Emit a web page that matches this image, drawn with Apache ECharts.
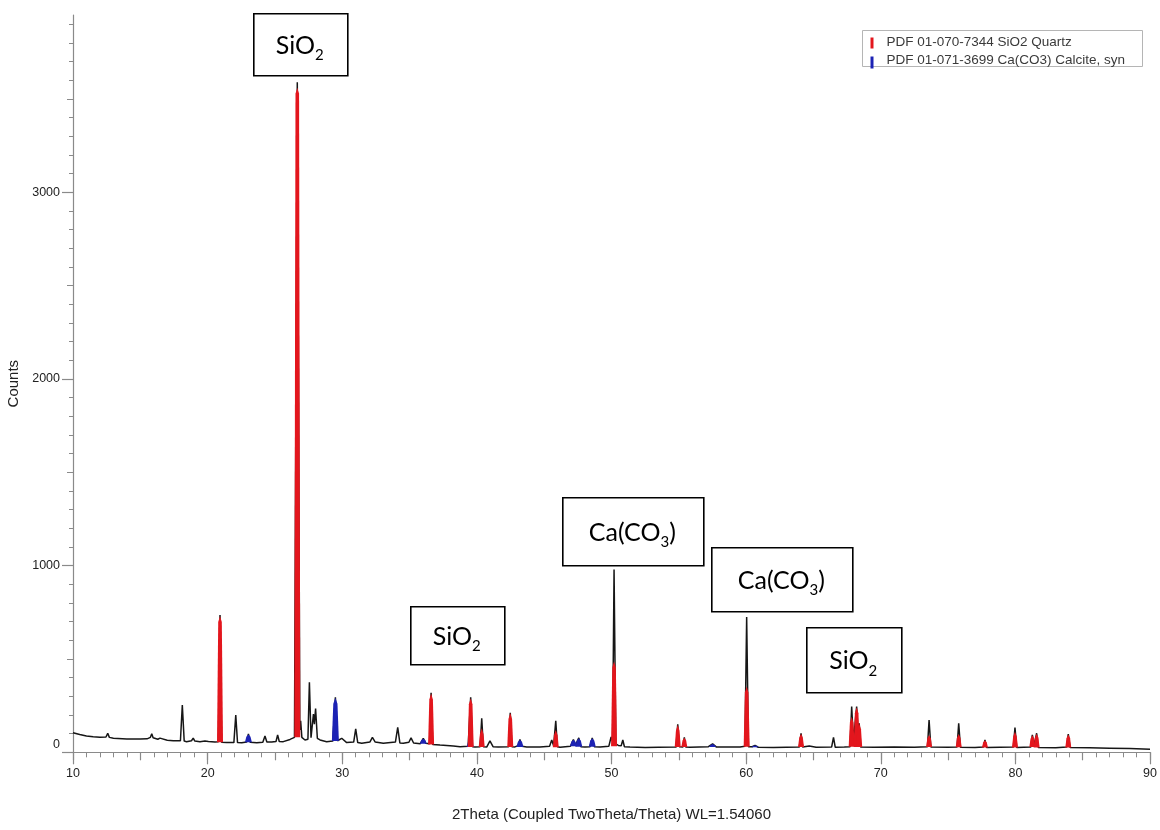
<!DOCTYPE html>
<html>
<head>
<meta charset="utf-8">
<script src="https://cdn.jsdelivr.net/npm/echarts@6/dist/echarts.min.js"></script>
<style>
html,body{margin:0;padding:0;background:#fff;}
#chart{width:1160px;height:830px;}
</style>
</head>
<body>
<div id="chart"></div>
<script>
// ---- Data ----
const traceX = [10.0,10.5,11.0,11.5,12.0,12.45,12.58,12.7,13.0,14.0,15.0,15.5,15.75,15.85,15.95,16.3,16.46,16.6,17.0,17.45,17.98,18.12,18.26,18.44,18.8,18.93,19.05,19.43,19.8,19.93,20.06,20.55,20.8,20.92,21.04,21.42,21.95,22.09,22.22,22.53,22.9,23.03,23.16,23.65,24.1,24.26,24.4,24.76,25.08,25.2,25.32,25.62,26.12,26.45,26.66,26.85,26.91,27.0,27.23,27.45,27.56,27.68,27.78,27.86,27.93,28.02,28.15,28.35,28.84,29.3,29.49,29.65,29.96,30.33,30.85,31.0,31.15,31.45,32.05,32.24,32.45,33.05,33.95,34.12,34.28,34.54,34.95,35.11,35.3,35.8,36.02,36.2,36.48,36.6,36.72,37.26,38.25,38.75,39.35,39.54,39.68,39.86,40.24,40.36,40.48,40.73,40.97,41.2,41.59,42.36,42.48,42.6,42.83,43.05,43.2,43.35,43.7,44.69,45.4,45.56,45.7,45.86,45.98,46.18,46.95,47.17,47.32,47.57,47.72,48.03,48.4,48.57,48.72,49.15,49.8,49.97,50.08,50.19,50.32,50.51,50.72,50.84,50.96,51.37,52.5,53.5,54.8,54.92,55.04,55.3,55.41,55.52,55.83,57.2,57.51,57.8,59.55,59.91,60.04,60.17,60.45,60.66,60.9,62.02,63.0,63.95,64.08,64.2,64.69,65.2,66.35,66.49,66.62,67.3,67.72,67.84,67.97,68.1,68.21,68.31,68.4,68.5,69.5,71.0,72.5,73.47,73.59,73.72,75.0,75.67,75.79,75.92,77.0,77.62,77.74,77.86,79.85,79.97,80.1,81.14,81.26,81.4,81.58,81.7,83.0,83.81,83.93,84.06,85.5,87.0,88.5,90.0];
const traceCounts = [105,95,87,83,80,82,102,80,75,71,71,72,80,100,78,70,76,68,65,62,62,253,60,57,62,76,60,57,60,68,58,55,56,735,54,52,52,200,52,51,55,98,54,51,54,87,55,55,58,93,58,57,69,80,3590,120,169,80,66,70,375,78,80,205,150,235,75,66,57,60,295,62,75,52,55,125,52,48,55,80,55,48,55,134,50,48,54,77,50,46,75,48,46,319,42,39,34,30,32,295,30,28,30,182,30,28,61,30,28,30,212,30,29,35,69,32,29,28,32,66,35,169,30,27,32,69,38,77,30,28,30,77,30,28,32,82,60,979,45,37,35,66,30,28,26,27,28,150,30,28,80,28,27,30,45,28,28,32,725,30,30,37,27,26,27,28,102,28,34,27,28,80,27,28,30,245,60,70,245,120,155,28,27,28,27,30,173,28,27,29,155,27,26,28,66,26,28,132,26,28,93,40,102,26,25,28,98,26,24,22,20,17];

// PDF 01-070-7344 SiO2 Quartz – matched peaks (2θ, fill top in counts)
const quartzPos = [20.92,26.66,36.6,39.54,40.36,42.48,45.86,50.19,54.92,55.41,60.04,64.08,67.84,68.21,68.4,73.59,75.79,77.74,79.97,81.26,81.58,83.93];
const quartzTop = [730,3560,315,290,129,210,119,487,148,78,353,100,191,242,155,93,98,64,110,91,100,96];

// PDF 01-071-3699 Ca(CO3) Calcite – matched peaks
const calcitePos = [23.03,29.49,36.02,39.5,43.2,47.17,47.57,48.57,57.51,60.66,64.69];
const calciteTop = [96,292,73,66,67,67,75,75,44,36,33];

const yLabelValues = [0,1000,2000,3000];
const yMidTicks = [500,1500,2500,3500];
const legendNames = ['PDF 01-070-7344 SiO2 Quartz','PDF 01-071-3699 Ca(CO3) Calcite, syn'];
const annotations = [
  {main:'SiO', sub:'2', tail:''},
  {main:'SiO', sub:'2', tail:''},
  {main:'Ca(CO', sub:'3', tail:')'},
  {main:'Ca(CO', sub:'3', tail:')'},
  {main:'SiO', sub:'2', tail:''}
];

// ---- helpers ----
function localBase(x){
  let m = Infinity;
  for (let i=0;i<traceX.length;i++){
    if (traceX[i] >= x-0.4 && traceX[i] <= x+0.4 && traceCounts[i] < m) m = traceCounts[i];
  }
  return m === Infinity ? 30 : m;
}
function fillRenderer(color, halfW){
  return function(params, api){
    const x = api.value(0), top = api.value(1);
    const pt = api.coord([x, top]);
    const pb = api.coord([x, localBase(x)]);
    const shoulder = pt[1] + Math.min(6, (pb[1]-pt[1])*0.3);
    return {
      type:'polygon',
      shape:{points:[[pt[0]-halfW,pb[1]],[pt[0]-halfW*0.6,shoulder],[pt[0],pt[1]],[pt[0]+halfW*0.6,shoulder],[pt[0]+halfW,pb[1]]]},
      style:{fill:color}
    };
  };
}
const minorY = [];
for (let v=100; v<=3900; v+=100) if (v%500!==0) minorY.push(v);

const RED = '#e3161d', BLUE = '#1c22b4';
const axisGray = '#8a8a8a';
const labelFont = 'Liberation Sans';

const traceData = traceX.map((x,i)=>[x, traceCounts[i]]);
const quartzData = quartzPos.map((x,i)=>[x, quartzTop[i]]);
const calciteData = calcitePos.map((x,i)=>[x, calciteTop[i]]);

const baseX = {type:'value', min:10, max:90, position:'bottom', splitLine:{show:false}};
const baseY = {type:'value', min:0, max:3950, position:'left', splitLine:{show:false}};

// annotation boxes (layout)
const boxLayout = [
  {x:253, y:13, w:94, h:62},
  {x:410, y:606, w:94, h:58},
  {x:562, y:497, w:141, h:68},
  {x:711, y:547, w:141, h:64},
  {x:806, y:627, w:95, h:65}
];
const graphics = [];
boxLayout.forEach((b, i)=>{
  const a = annotations[i];
  graphics.push({
    type:'group', left:b.x, top:b.y, z:100,
    children:[
      {type:'rect', shape:{x:0,y:0,width:b.w,height:b.h}, style:{fill:'#fff', stroke:'#000', lineWidth:1.6}},
      {type:'text', x:b.w/2 - 1, y:b.h/2 + 1, style:{
        text:'{m|'+a.main+'}{s|'+a.sub+'}' + (a.tail ? '{m|'+a.tail+'}' : ''),
        align:'center', verticalAlign:'middle',
        rich:{
          m:{fontSize:25, fontFamily:'Lato', fill:'#000', lineHeight:34, verticalAlign:'middle'},
          s:{fontSize:15, fontFamily:'Lato', fill:'#000', lineHeight:15, verticalAlign:'bottom'}
        }
      }}
    ]
  });
});
// legend box
graphics.push({
  type:'group', left:862, top:30, z:100,
  children:[
    {type:'rect', shape:{x:0,y:0,width:280,height:36}, style:{fill:'#fff', stroke:'#b5b5b5', lineWidth:1}},
    {type:'rect', shape:{x:8,y:7,width:3,height:11}, style:{fill:RED}},
    {type:'text', x:24, y:12, style:{text:legendNames[0], fontSize:13.5, fontFamily:labelFont, fill:'#3a3a3a', verticalAlign:'middle'}},
    {type:'rect', shape:{x:8,y:26,width:3,height:12}, style:{fill:BLUE}},
    {type:'text', x:24, y:30, style:{text:legendNames[1], fontSize:13.5, fontFamily:labelFont, fill:'#3a3a3a', verticalAlign:'middle'}}
  ]
});

const chart = echarts.init(document.getElementById('chart'), null, {renderer:'canvas'});
chart.setOption({
  animation:false,
  backgroundColor:'#fff',
  grid:{left:73, right:10, top:15, bottom:77.7, containLabel:false, outerBoundsMode:'none'},
  xAxis:[
    Object.assign({}, baseX, {
      interval:10,
      axisLine:{show:true, lineStyle:{color:axisGray, width:1.2}},
      axisTick:{show:true, length:12, lineStyle:{color:axisGray, width:1.2}},
      axisLabel:{show:true, margin:15, fontSize:12.5, color:'#222', fontFamily:labelFont},
      name:'2Theta (Coupled TwoTheta/Theta) WL=1.54060',
      nameLocation:'middle', nameGap:55,
      nameTextStyle:{fontSize:15, color:'#222', fontFamily:labelFont}
    }),
    Object.assign({}, baseX, {
      interval:5,
      axisLine:{show:false}, axisLabel:{show:false},
      axisTick:{show:true, length:8, lineStyle:{color:axisGray, width:1.2}}
    }),
    Object.assign({}, baseX, {
      interval:1,
      axisLine:{show:false}, axisLabel:{show:false},
      axisTick:{show:true, length:5, lineStyle:{color:axisGray, width:1}}
    })
  ],
  yAxis:[
    Object.assign({}, baseY, {
      axisLine:{show:true, lineStyle:{color:axisGray, width:1.2}},
      axisTick:{show:true, length:11, customValues:yLabelValues, lineStyle:{color:axisGray, width:1.2}},
      axisLabel:{show:true, margin:13, fontSize:12.5, color:'#222', fontFamily:labelFont, customValues:yLabelValues,
        formatter:function(v){ return v === 0 ? '{z|0}' : String(v); },
        rich:{z:{fontSize:12.5, fontFamily:labelFont, color:'#222', padding:[0,0,16,0]}}},
      name:'Counts', nameLocation:'middle', nameGap:43, nameRotate:90,
      nameTextStyle:{fontSize:15, color:'#222', fontFamily:labelFont}
    }),
    Object.assign({}, baseY, {
      axisLine:{show:false}, axisLabel:{show:false},
      axisTick:{show:true, length:6, customValues:yMidTicks, lineStyle:{color:axisGray, width:1}}
    }),
    Object.assign({}, baseY, {
      axisLine:{show:false}, axisLabel:{show:false},
      axisTick:{show:true, length:4, customValues:minorY, lineStyle:{color:axisGray, width:1}}
    })
  ],
  series:[
    {
      name:'Pattern', type:'line', data:traceData, xAxisIndex:0, yAxisIndex:0,
      showSymbol:false, symbol:'none', smooth:false, z:2,
      lineStyle:{color:'#161616', width:1.5}
    },
    {
      name:legendNames[1], type:'custom', data:calciteData, xAxisIndex:0, yAxisIndex:0,
      encode:{x:0, y:1}, z:3, renderItem:fillRenderer(BLUE, 3.5)
    },
    {
      name:legendNames[0], type:'custom', data:quartzData, xAxisIndex:0, yAxisIndex:0,
      encode:{x:0, y:1}, z:4, renderItem:fillRenderer(RED, 3)
    }
  ],
  graphic:graphics
});
</script>
</body>
</html>
